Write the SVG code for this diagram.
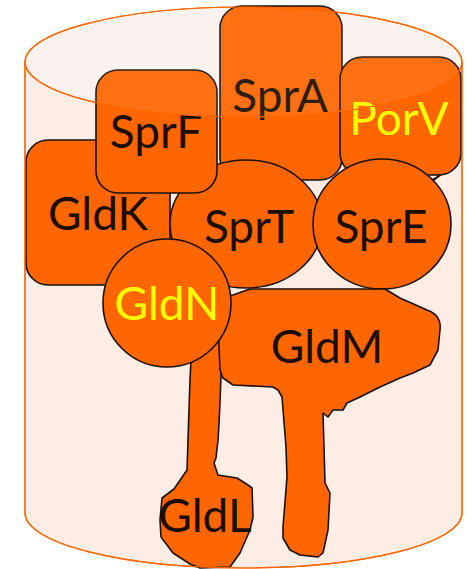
<svg xmlns="http://www.w3.org/2000/svg" width="474" height="569" viewBox="0 0 474 569">
  <style>
    .cyl { stroke: #ff6600; stroke-width: 1.2; }
    .prot { fill: #ff6600; stroke: #1a1008; stroke-width: 1.6; stroke-linejoin: round; }
    .lbl { font-family: Lato, "Liberation Sans", sans-serif; font-size: 46px; text-anchor: middle; fill: #1c0d02; }
    .lbl.hi { fill: #ffff00; }
  </style>

  <!-- cylinder body and top face -->
  <g id="cylinder">
    <path class="cyl" d="M25,62 L25,513 A218.5,55 0 0 0 462,513 L462,62 Z" fill="#fdede4"/>
    <ellipse class="cyl" cx="243.5" cy="62" rx="218.5" ry="55" fill="#fcf3ef"/>
  </g>

  <g id="GldK">
    <rect class="prot" x="26" y="140" width="144" height="145" rx="22"/>
    <text class="lbl" x="98" y="230">GldK</text>
  </g>

  <g id="SprA">
    <rect class="prot" x="220" y="6" width="122" height="174" rx="22"/>
    <text class="lbl" x="280" y="112">SprA</text>
  </g>

  <g id="PorV">
    <path d="M430,184 L447,171 L443,170 L436,177 L430,180 Z" fill="#1a1008"/>
    <rect class="prot" x="340" y="57" width="121" height="118" rx="22"/>
    <text class="lbl hi" x="399" y="135">PorV</text>
  </g>

  <g id="SprT">
    <ellipse class="prot" cx="246" cy="224" rx="76" ry="64"/>
    <text class="lbl" x="249" y="243">SprT</text>
  </g>

  <g id="SprF">
    <rect class="prot" x="96" y="70" width="121" height="123" rx="22"/>
    <text class="lbl" x="156" y="148">SprF</text>
  </g>

  <g id="SprE">
    <ellipse class="prot" cx="382" cy="224" rx="69" ry="65"/>
    <text class="lbl" x="381" y="243">SprE</text>
  </g>

  <g id="GldL">
    <path class="prot" d="M192,340 L190,380 C189,410 188,440 187,470 L174,489 L162,498 L160,520 L161,537 L173,553 L190,564 L200,568 L230,567 L240,553 L250,530 L253,517 L252,488 L248,485 L237,478 L218,475 L214,463 L216,458 L218,440 C220,410 221,380 222,340 Z"/>
    <text class="lbl" x="205" y="532">GldL</text>
  </g>

  <g id="GldM">
    <path class="prot" d="M218,305 C222,297 227,295 233,295 L250,289 L385,289 L400,298 L427,310 C438,314 441,322 440,330 L438,350 L430,365 L413,373 L400,378 L380,387 L360,397 L347,403 L343,410 L333,410 L328,417 L323,413 L325,483 L330,493 L328,530 L323,553 L318,557 L300,555 L290,550 L283,538 L283,527 L287,477 L286,447 L282,397 L278,390 L273,387 L233,385 L223,378 L220,370 C219,345 218,325 218,305 Z"/>
    <text class="lbl" x="327" y="363">GldM</text>
  </g>

  <g id="GldN">
    <circle class="prot" cx="167" cy="303" r="64"/>
    <text class="lbl hi" x="167" y="320">GldN</text>
  </g>

  <!-- front rim of the cylinder, drawn over the contents -->
  <g id="rim" fill="none">
    <ellipse class="cyl" cx="243.5" cy="62" rx="218.5" ry="55" fill="#ffffff" fill-opacity="0.07"/>
    <line class="cyl" x1="25" y1="62" x2="25" y2="513"/>
    <line class="cyl" x1="462" y1="62" x2="462" y2="513"/>
    <path class="cyl" d="M25,513 A218.5,55 0 0 0 462,513"/>
  </g>
</svg>
